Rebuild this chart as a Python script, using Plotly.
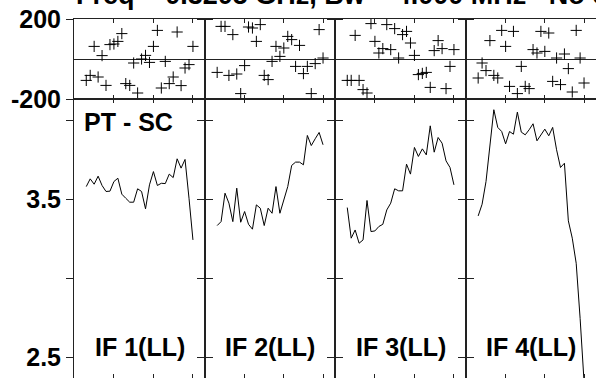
import plotly.graph_objects as go
from plotly.subplots import make_subplots

# spectral channels plotted in every IF
channels = list(range(3, 31))

# phase (degrees) per IF
phase_if1 = [-107, -82, 63, -90, 17, -132, 72, 75, 88, 127, -123, -132, -20, -170,
             0, 18, -17, 63, 143, -145, -12, -123, -90, 135, -133, -45, -28, 63]
phase_if2 = [-67, 163, 163, -82, 122, -75, -173, -33, 160, 155, 88, 172, -82, -103,
             -12, 63, 13, 55, 113, 97, -37, 68, -73, -37, -173, -23, 147, 5]
phase_if3 = [-107, -107, 118, -107, -153, -170, 177, 88, 30, 52, 172, 47, 152, 5,
             122, 138, 80, 18, -78, -72, -67, -142, 42, 92, 52, -148, -37, 47]
phase_if4 = [-95, -20, -58, 92, -82, -95, 143, 63, -137, 138, -173, -37, -137, -148,
             47, 30, 138, 38, 130, -112, 5, -128, 25, -48, -165, 143, 5, -120]

# amplitude per IF
amp_if1 = [3.580, 3.629, 3.595, 3.646, 3.587, 3.549, 3.551, 3.612, 3.633, 3.532,
           3.506, 3.481, 3.481, 3.566, 3.549, 3.439, 3.591, 3.675, 3.587, 3.601,
           3.599, 3.659, 3.637, 3.756, 3.697, 3.752, 3.506, 3.242]
amp_if2 = [3.333, 3.358, 3.538, 3.475, 3.358, 3.570, 3.354, 3.422, 3.341, 3.310,
           3.464, 3.443, 3.333, 3.443, 3.411, 3.580, 3.411, 3.496, 3.580, 3.714,
           3.735, 3.735, 3.718, 3.904, 3.840, 3.883, 3.923, 3.845]
amp_if3 = [3.447, 3.253, 3.305, 3.221, 3.242, 3.492, 3.295, 3.299, 3.327, 3.341,
           3.432, 3.475, 3.566, 3.553, 3.553, 3.722, 3.659, 3.828, 3.771, 3.819,
           3.781, 3.965, 3.798, 3.891, 3.855, 3.743, 3.701, 3.591]
amp_if4 = [3.394, 3.468, 3.612, 3.845, 4.067, 3.955, 3.929, 3.851, 3.929, 3.912,
           4.052, 3.925, 3.908, 3.940, 3.978, 3.870, 3.908, 3.944, 3.902, 3.955,
           3.813, 3.701, 3.728, 3.363, 3.253, 3.094, 2.745, 2.344]

phases = [phase_if1, phase_if2, phase_if3, phase_if4]
amps = [amp_if1, amp_if2, amp_if3, amp_if4]

if_labels = ["IF 1(LL)", "IF 2(LL)", "IF 3(LL)", "IF 4(LL)"]
baseline = "PT - SC"
title = "Freq = 0.3205 GHz, Bw = 4.000 MHz   No calibration applied"

chan_ticks = [10, 20, 30]
phase_ticks = [-200, 200]
phase_tick_text = ["-200", "200"]
amp_ticks = [2.5, 3.0, 3.5, 4.0]
amp_tick_text = ["2.5", "", "3.5", ""]

font = dict(family="Liberation Sans, Arial, sans-serif", size=25, color="black", weight="bold")

fig = make_subplots(rows=2, cols=4, horizontal_spacing=0, vertical_spacing=0,
                    column_widths=[131, 130, 131, 130], row_heights=[80, 279])

for i in range(4):
    fig.add_trace(go.Scatter(x=channels, y=phases[i], mode="markers",
                             marker=dict(symbol="cross-thin", size=8,
                                         line=dict(color="black", width=1)),
                             showlegend=False), row=1, col=i + 1)
    fig.add_trace(go.Scatter(x=channels, y=amps[i], mode="lines",
                             line=dict(color="black", width=1),
                             showlegend=False), row=2, col=i + 1)

axis_line = dict(showline=True, linecolor="#222", linewidth=1, mirror="ticks",
                 showgrid=False, tickcolor="#222", tickwidth=1, automargin=False)

fig.update_xaxes(range=[-0.1, 33.05], tickvals=chan_ticks, ticks="inside", ticklen=4,
                 showticklabels=False, zeroline=False, **axis_line)
fig.update_yaxes(range=[-200, 200], tickvals=phase_ticks, ticktext=phase_tick_text,
                 ticks="outside", ticklen=7, zeroline=True, zerolinecolor="#222",
                 zerolinewidth=1, showticklabels=False, tickfont=font, **axis_line, row=1)
fig.update_yaxes(range=[2.367, 4.135], tickvals=amp_ticks, ticktext=amp_tick_text,
                 ticks="outside", ticklen=7, zeroline=False, showticklabels=False,
                 tickfont=font, **axis_line, row=2)
fig.update_yaxes(showticklabels=True, col=1)

fig.add_annotation(text=baseline, xref="x5 domain", yref="y5 domain", x=0.06, y=0.975,
                   xanchor="left", yanchor="top", showarrow=False, font=font)
for i in range(4):
    fig.add_annotation(text=if_labels[i], xref="x%s domain" % (i + 5), yref="y%s domain" % (i + 5),
                       x=0.5, y=0.055, xanchor="center", yanchor="bottom",
                       showarrow=False, font=font)

fig.add_annotation(text=title, xref="paper", yref="paper", x=0, y=1.020,
                   xanchor="left", yanchor="bottom", showarrow=False,
                   font=dict(font, size=27))

fig.update_layout(width=596, height=378, margin=dict(l=74, r=0, t=19, b=0),
                  plot_bgcolor="white", paper_bgcolor="white")

# page body has a default 8px margin; remove it so the figure sits at the window corner
fig.write_html("out.html", config={"displayModeBar": False},
               post_script="document.body.style.margin = '0';")
